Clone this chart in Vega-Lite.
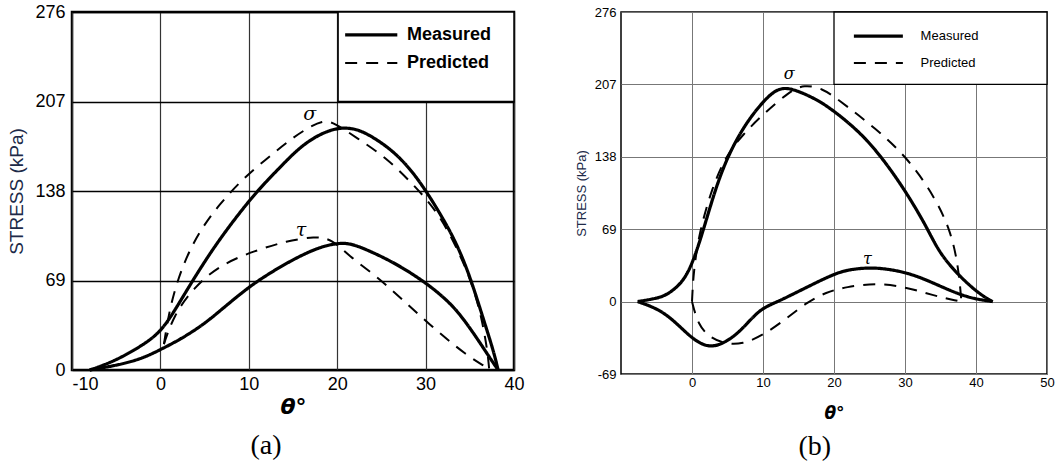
{
  "$schema": "https://vega.github.io/schema/vega-lite/v6.json",
  "padding": {"left": 6, "top": 1, "right": 0, "bottom": 0},
  "background": "white",
  "spacing": 48,
  "config": {"font": "Liberation Sans", "view": {"stroke": "black"}},
  "datasets": {
    "a": [
      {"series": "Measured", "curve": "σ", "x": -8, "y": 0},
      {"series": "Measured", "curve": "σ", "x": -6.5, "y": 3.5},
      {"series": "Measured", "curve": "σ", "x": -4.6, "y": 9},
      {"series": "Measured", "curve": "σ", "x": -1.9, "y": 19.5},
      {"series": "Measured", "curve": "σ", "x": 0.1, "y": 29.8},
      {"series": "Measured", "curve": "σ", "x": 1.8, "y": 47.8},
      {"series": "Measured", "curve": "σ", "x": 3.7, "y": 69.6},
      {"series": "Measured", "curve": "σ", "x": 6, "y": 94},
      {"series": "Measured", "curve": "σ", "x": 8.2, "y": 114.6},
      {"series": "Measured", "curve": "σ", "x": 10.9, "y": 137.8},
      {"series": "Measured", "curve": "σ", "x": 13.5, "y": 156},
      {"series": "Measured", "curve": "σ", "x": 15.5, "y": 170},
      {"series": "Measured", "curve": "σ", "x": 17.3, "y": 179},
      {"series": "Measured", "curve": "σ", "x": 19, "y": 184.5},
      {"series": "Measured", "curve": "σ", "x": 20.3, "y": 186.6},
      {"series": "Measured", "curve": "σ", "x": 21.5, "y": 186.5},
      {"series": "Measured", "curve": "σ", "x": 23, "y": 184},
      {"series": "Measured", "curve": "σ", "x": 26, "y": 171},
      {"series": "Measured", "curve": "σ", "x": 28.2, "y": 155.7},
      {"series": "Measured", "curve": "σ", "x": 30.1, "y": 137.8},
      {"series": "Measured", "curve": "σ", "x": 32.4, "y": 112},
      {"series": "Measured", "curve": "σ", "x": 33.9, "y": 91.5},
      {"series": "Measured", "curve": "σ", "x": 35.2, "y": 68.4},
      {"series": "Measured", "curve": "σ", "x": 36.5, "y": 40},
      {"series": "Measured", "curve": "σ", "x": 37.7, "y": 14.4},
      {"series": "Measured", "curve": "σ", "x": 38.2, "y": 0},
      {"series": "Measured", "curve": "τ", "x": -8, "y": 0},
      {"series": "Measured", "curve": "τ", "x": -4.6, "y": 4},
      {"series": "Measured", "curve": "τ", "x": -2, "y": 9},
      {"series": "Measured", "curve": "τ", "x": 0, "y": 15.7},
      {"series": "Measured", "curve": "τ", "x": 2.2, "y": 23.4},
      {"series": "Measured", "curve": "τ", "x": 4.9, "y": 35},
      {"series": "Measured", "curve": "τ", "x": 7.5, "y": 50},
      {"series": "Measured", "curve": "τ", "x": 10.1, "y": 64.5},
      {"series": "Measured", "curve": "τ", "x": 12.4, "y": 74.8},
      {"series": "Measured", "curve": "τ", "x": 14.7, "y": 84},
      {"series": "Measured", "curve": "τ", "x": 16.9, "y": 91.5},
      {"series": "Measured", "curve": "τ", "x": 18.7, "y": 96},
      {"series": "Measured", "curve": "τ", "x": 20.3, "y": 97.9},
      {"series": "Measured", "curve": "τ", "x": 21.5, "y": 97.5},
      {"series": "Measured", "curve": "τ", "x": 23.3, "y": 93},
      {"series": "Measured", "curve": "τ", "x": 26.7, "y": 82},
      {"series": "Measured", "curve": "τ", "x": 30.1, "y": 67},
      {"series": "Measured", "curve": "τ", "x": 32.4, "y": 54},
      {"series": "Measured", "curve": "τ", "x": 33.9, "y": 43},
      {"series": "Measured", "curve": "τ", "x": 35.8, "y": 24.7},
      {"series": "Measured", "curve": "τ", "x": 37.3, "y": 9},
      {"series": "Measured", "curve": "τ", "x": 38.2, "y": 0},
      {"series": "Predicted", "curve": "σ", "x": 0.4, "y": 20},
      {"series": "Predicted", "curve": "σ", "x": 1.1, "y": 50},
      {"series": "Predicted", "curve": "σ", "x": 2.5, "y": 81},
      {"series": "Predicted", "curve": "σ", "x": 4.4, "y": 107},
      {"series": "Predicted", "curve": "σ", "x": 6.7, "y": 128},
      {"series": "Predicted", "curve": "σ", "x": 9.4, "y": 148},
      {"series": "Predicted", "curve": "σ", "x": 12.4, "y": 165},
      {"series": "Predicted", "curve": "σ", "x": 14.7, "y": 177.6},
      {"series": "Predicted", "curve": "σ", "x": 16.5, "y": 186},
      {"series": "Predicted", "curve": "σ", "x": 18.4, "y": 192.5},
      {"series": "Predicted", "curve": "σ", "x": 19.6, "y": 191},
      {"series": "Predicted", "curve": "σ", "x": 22.2, "y": 179},
      {"series": "Predicted", "curve": "σ", "x": 25.6, "y": 163.5},
      {"series": "Predicted", "curve": "σ", "x": 28.6, "y": 143},
      {"series": "Predicted", "curve": "σ", "x": 31.3, "y": 122.6},
      {"series": "Predicted", "curve": "σ", "x": 33.5, "y": 95},
      {"series": "Predicted", "curve": "σ", "x": 35.2, "y": 68},
      {"series": "Predicted", "curve": "σ", "x": 36.3, "y": 42},
      {"series": "Predicted", "curve": "σ", "x": 37, "y": 15},
      {"series": "Predicted", "curve": "σ", "x": 37.2, "y": 0},
      {"series": "Predicted", "curve": "τ", "x": 0.4, "y": 20},
      {"series": "Predicted", "curve": "τ", "x": 1.5, "y": 42},
      {"series": "Predicted", "curve": "τ", "x": 3.7, "y": 63},
      {"series": "Predicted", "curve": "τ", "x": 6.7, "y": 81},
      {"series": "Predicted", "curve": "τ", "x": 10.7, "y": 92},
      {"series": "Predicted", "curve": "τ", "x": 14.3, "y": 99.5},
      {"series": "Predicted", "curve": "τ", "x": 17.5, "y": 103},
      {"series": "Predicted", "curve": "τ", "x": 19.4, "y": 101},
      {"series": "Predicted", "curve": "τ", "x": 21.3, "y": 88},
      {"series": "Predicted", "curve": "τ", "x": 24.5, "y": 72},
      {"series": "Predicted", "curve": "τ", "x": 27.6, "y": 53},
      {"series": "Predicted", "curve": "τ", "x": 31.1, "y": 31},
      {"series": "Predicted", "curve": "τ", "x": 34.7, "y": 11},
      {"series": "Predicted", "curve": "τ", "x": 36.8, "y": 2.5},
      {"series": "Predicted", "curve": "τ", "x": 37.3, "y": 0}
    ],
    "b": [
      {"series": "Measured", "curve": "σ", "x": -7.65, "y": 0},
      {"series": "Measured", "curve": "σ", "x": -5.5, "y": 2.5},
      {"series": "Measured", "curve": "σ", "x": -3.66, "y": 5.4},
      {"series": "Measured", "curve": "σ", "x": -1.3, "y": 18},
      {"series": "Measured", "curve": "σ", "x": 0.1, "y": 37},
      {"series": "Measured", "curve": "σ", "x": 1.5, "y": 65.7},
      {"series": "Measured", "curve": "σ", "x": 3.4, "y": 110},
      {"series": "Measured", "curve": "σ", "x": 5.25, "y": 141.8},
      {"series": "Measured", "curve": "σ", "x": 7.6, "y": 170.4},
      {"series": "Measured", "curve": "σ", "x": 10.4, "y": 194},
      {"series": "Measured", "curve": "σ", "x": 12.3, "y": 204},
      {"series": "Measured", "curve": "σ", "x": 14.2, "y": 203},
      {"series": "Measured", "curve": "σ", "x": 17.5, "y": 193},
      {"series": "Measured", "curve": "σ", "x": 19.5, "y": 184},
      {"series": "Measured", "curve": "σ", "x": 21.7, "y": 172.5},
      {"series": "Measured", "curve": "σ", "x": 24.5, "y": 155.5},
      {"series": "Measured", "curve": "σ", "x": 27.3, "y": 132.3},
      {"series": "Measured", "curve": "σ", "x": 30.1, "y": 105},
      {"series": "Measured", "curve": "σ", "x": 33, "y": 72},
      {"series": "Measured", "curve": "σ", "x": 34.8, "y": 46.6},
      {"series": "Measured", "curve": "σ", "x": 37.6, "y": 24.5},
      {"series": "Measured", "curve": "σ", "x": 40.5, "y": 7},
      {"series": "Measured", "curve": "σ", "x": 42.35, "y": 0},
      {"series": "Measured", "curve": "τ", "x": -7.65, "y": 0},
      {"series": "Measured", "curve": "τ", "x": -4.6, "y": -7.3},
      {"series": "Measured", "curve": "τ", "x": -2.25, "y": -20},
      {"series": "Measured", "curve": "τ", "x": 0.1, "y": -35.9},
      {"series": "Measured", "curve": "τ", "x": 2.4, "y": -44.5},
      {"series": "Measured", "curve": "τ", "x": 4.8, "y": -39},
      {"series": "Measured", "curve": "τ", "x": 7.1, "y": -26.4},
      {"series": "Measured", "curve": "τ", "x": 9.5, "y": -7.3},
      {"series": "Measured", "curve": "τ", "x": 11.8, "y": -1},
      {"series": "Measured", "curve": "τ", "x": 15.6, "y": 11.7},
      {"series": "Measured", "curve": "τ", "x": 20.3, "y": 27.6},
      {"series": "Measured", "curve": "τ", "x": 22.6, "y": 31},
      {"series": "Measured", "curve": "τ", "x": 25.9, "y": 33},
      {"series": "Measured", "curve": "τ", "x": 30.6, "y": 27.6},
      {"series": "Measured", "curve": "τ", "x": 34.4, "y": 16.5},
      {"series": "Measured", "curve": "τ", "x": 38.6, "y": 3.8},
      {"series": "Measured", "curve": "τ", "x": 42.35, "y": 0},
      {"series": "Predicted", "curve": "σ", "x": 0, "y": 0},
      {"series": "Predicted", "curve": "σ", "x": 0.2, "y": 27.6},
      {"series": "Predicted", "curve": "σ", "x": 1, "y": 65.7},
      {"series": "Predicted", "curve": "σ", "x": 2.9, "y": 110},
      {"series": "Predicted", "curve": "σ", "x": 4.8, "y": 138.7},
      {"series": "Predicted", "curve": "σ", "x": 7.1, "y": 159},
      {"series": "Predicted", "curve": "σ", "x": 10.4, "y": 181},
      {"series": "Predicted", "curve": "σ", "x": 13.7, "y": 200},
      {"series": "Predicted", "curve": "σ", "x": 15.8, "y": 207},
      {"series": "Predicted", "curve": "σ", "x": 18.4, "y": 203},
      {"series": "Predicted", "curve": "σ", "x": 20.3, "y": 194},
      {"series": "Predicted", "curve": "σ", "x": 25.9, "y": 165},
      {"series": "Predicted", "curve": "σ", "x": 30.6, "y": 135.4},
      {"series": "Predicted", "curve": "σ", "x": 34.4, "y": 97.4},
      {"series": "Predicted", "curve": "σ", "x": 36.5, "y": 65.7},
      {"series": "Predicted", "curve": "σ", "x": 37.5, "y": 34},
      {"series": "Predicted", "curve": "σ", "x": 37.95, "y": 0},
      {"series": "Predicted", "curve": "τ", "x": 0, "y": 0},
      {"series": "Predicted", "curve": "τ", "x": 0.85, "y": -22},
      {"series": "Predicted", "curve": "τ", "x": 2.5, "y": -34.5},
      {"series": "Predicted", "curve": "τ", "x": 4.8, "y": -40.5},
      {"series": "Predicted", "curve": "τ", "x": 7.1, "y": -40.5},
      {"series": "Predicted", "curve": "τ", "x": 9.9, "y": -32.6},
      {"series": "Predicted", "curve": "τ", "x": 13.2, "y": -16.8},
      {"series": "Predicted", "curve": "τ", "x": 16.1, "y": -1},
      {"series": "Predicted", "curve": "τ", "x": 18.9, "y": 9},
      {"series": "Predicted", "curve": "τ", "x": 21.7, "y": 14},
      {"series": "Predicted", "curve": "τ", "x": 25.9, "y": 17.7},
      {"series": "Predicted", "curve": "τ", "x": 30.1, "y": 14},
      {"series": "Predicted", "curve": "τ", "x": 33.9, "y": 6},
      {"series": "Predicted", "curve": "τ", "x": 37.5, "y": 0.5},
      {"series": "Predicted", "curve": "τ", "x": 37.95, "y": 0}
    ]
  },
  "hconcat": [
    {
      "width": 442,
      "height": 358,
      "view": {"stroke": "black", "strokeWidth": 2.5},
      "title": {"text": "(a)", "orient": "bottom", "anchor": "middle", "frame": "bounds", "font": "Liberation Serif", "fontSize": 28, "fontWeight": "normal", "color": "black", "offset": 15},
      "layer": [
        {
          "data": {"name": "a"},
          "mark": {"type": "line", "color": "black", "interpolate": "basis"},
          "encoding": {
            "x": {"field": "x", "type": "quantitative", "scale": {"domain": [-10, 40], "nice": false, "zero": false},
              "axis": {"values": [-10, 0, 10, 20, 30, 40], "labelExpr": "'' + datum.value", "labelAlign": {"condition": {"test": "datum.value == -10", "value": "left"}, "value": "center"}, "title": "θ°", "titleFont": "DejaVu Sans", "titleFontSize": 22, "titleFontStyle": "italic", "titleFontWeight": "bold", "titleColor": "black", "titlePadding": 3, "labelFontSize": 18, "labelColor": "black", "labelPadding": 5, "labelFlush": false, "labelOverlap": false, "ticks": false, "domain": false, "grid": true, "gridColor": "#333", "gridWidth": 1.2}},
            "y": {"field": "y", "type": "quantitative", "scale": {"domain": [0, 276], "nice": false, "zero": false},
              "axis": {"values": [0, 69, 138, 207, 276], "title": "STRESS (kPa)", "titleFontSize": 19, "titleFontWeight": "normal", "titleColor": "#202a48", "titlePadding": 8, "labelFontSize": 18, "labelColor": "black", "labelPadding": 7, "labelFlush": false, "labelOverlap": false, "ticks": false, "domain": false, "grid": true, "gridColor": "black", "gridWidth": 1.5}},
            "detail": {"field": "curve"},
            "strokeDash": {"field": "series", "scale": {"domain": ["Measured", "Predicted"], "range": [[1, 0], [12, 9]]}, "legend": null},
            "strokeWidth": {"field": "series", "scale": {"domain": ["Measured", "Predicted"], "range": [3.2, 2]}, "legend": null}
          }
        },
        {
          "data": {"values": [{"box": "legend"}]},
          "mark": {"type": "rect", "fill": "white", "stroke": "black", "strokeWidth": 1.5},
          "encoding": {
            "x": {"datum": 20.1, "type": "quantitative"},
            "x2": {"datum": 40},
            "y": {"datum": 207, "type": "quantitative"},
            "y2": {"datum": 276}
          }
        },
        {
          "data": {"values": [{"series": "Measured"}]},
          "mark": {"type": "rule", "color": "black"},
          "encoding": {
            "x": {"datum": 20.9, "type": "quantitative"}, "x2": {"datum": 26.8},
            "y": {"datum": 258.3, "type": "quantitative"},
            "strokeDash": {"field": "series", "legend": null},
            "strokeWidth": {"field": "series", "legend": null}
          }
        },
        {
          "data": {"values": [{"series": "Predicted"}]},
          "mark": {"type": "rule", "color": "black"},
          "encoding": {
            "x": {"datum": 20.9, "type": "quantitative"}, "x2": {"datum": 26.8},
            "y": {"datum": 236.7, "type": "quantitative"},
            "strokeDash": {"field": "series", "legend": null},
            "strokeWidth": {"field": "series", "legend": null}
          }
        },
        {
          "data": {"values": [{"series": "Measured"}]},
          "mark": {"type": "text", "align": "left", "baseline": "middle", "fontSize": 18, "fontWeight": "bold", "color": "black"},
          "encoding": {
            "x": {"datum": 27.9, "type": "quantitative"},
            "y": {"datum": 258.3, "type": "quantitative"},
            "text": {"field": "series"}
          }
        },
        {
          "data": {"values": [{"series": "Predicted"}]},
          "mark": {"type": "text", "align": "left", "baseline": "middle", "fontSize": 18, "fontWeight": "bold", "color": "black"},
          "encoding": {
            "x": {"datum": 27.9, "type": "quantitative"},
            "y": {"datum": 236.7, "type": "quantitative"},
            "text": {"field": "series"}
          }
        },
        {
          "data": {"values": [{"label": "σ"}]},
          "mark": {"type": "text", "align": "center", "baseline": "middle", "font": "DejaVu Serif", "fontStyle": "italic", "fontSize": 19, "color": "black"},
          "encoding": {
            "x": {"datum": 16.9, "type": "quantitative"},
            "y": {"datum": 197, "type": "quantitative"},
            "text": {"field": "label"}
          }
        },
        {
          "data": {"values": [{"label": "τ"}]},
          "mark": {"type": "text", "align": "center", "baseline": "middle", "font": "DejaVu Serif", "fontStyle": "italic", "fontSize": 19, "color": "black"},
          "encoding": {
            "x": {"datum": 15.9, "type": "quantitative"},
            "y": {"datum": 108, "type": "quantitative"},
            "text": {"field": "label"}
          }
        }
      ]
    },
    {
      "width": 426,
      "height": 362,
      "view": {"stroke": "black", "strokeWidth": 1.5},
      "title": {"text": "(b)", "orient": "bottom", "anchor": "middle", "frame": "bounds", "font": "Liberation Serif", "fontSize": 28, "fontWeight": "normal", "color": "black", "offset": 12},
      "layer": [
        {
          "data": {"name": "b"},
          "mark": {"type": "line", "color": "black", "interpolate": "basis"},
          "encoding": {
            "x": {"field": "x", "type": "quantitative", "scale": {"domain": [-10, 50], "nice": false, "zero": false},
              "axis": {"values": [0, 10, 20, 30, 40, 50], "title": "θ°", "titleFont": "DejaVu Sans", "titleFontSize": 17, "titleFontStyle": "italic", "titleFontWeight": "bold", "titleColor": "black", "titlePadding": 16, "labelFontSize": 13, "labelColor": "black", "labelPadding": 2, "labelFlush": false, "labelOverlap": false, "ticks": false, "domain": false, "grid": true, "gridColor": "#777", "gridWidth": 1}},
            "y": {"field": "y", "type": "quantitative", "scale": {"domain": [-69, 276], "nice": false, "zero": false},
              "axis": {"values": [-69, 0, 69, 138, 207, 276], "labelExpr": "'' + datum.value", "title": "STRESS (kPa)", "titleFontSize": 13, "titleFontWeight": "normal", "titleColor": "#202a48", "titlePadding": 6, "labelFontSize": 13, "labelColor": "black", "labelPadding": 5, "labelFlush": false, "labelOverlap": false, "ticks": false, "domain": false, "grid": true, "gridColor": "#777", "gridWidth": 1}},
            "detail": {"field": "curve"},
            "strokeDash": {"field": "series", "scale": {"domain": ["Measured", "Predicted"], "range": [[1, 0], [18, 5]]}, "legend": null},
            "strokeWidth": {"field": "series", "scale": {"domain": ["Measured", "Predicted"], "range": [1.7, 1.8]}, "legend": null}
          }
        },
        {
          "data": {"values": [{"box": "legend"}]},
          "mark": {"type": "rect", "fill": "white", "stroke": "black", "strokeWidth": 1.3},
          "encoding": {
            "x": {"datum": 20, "type": "quantitative"},
            "x2": {"datum": 50},
            "y": {"datum": 207, "type": "quantitative"},
            "y2": {"datum": 276}
          }
        },
        {
          "data": {"values": [{"series": "Measured"}]},
          "mark": {"type": "rule", "color": "black"},
          "encoding": {
            "x": {"datum": 22.8, "type": "quantitative"}, "x2": {"datum": 29.7},
            "y": {"datum": 253, "type": "quantitative"},
            "strokeDash": {"field": "series", "legend": null},
            "strokeWidth": {"field": "series", "legend": null}
          }
        },
        {
          "data": {"values": [{"series": "Predicted"}]},
          "mark": {"type": "rule", "color": "black"},
          "encoding": {
            "x": {"datum": 22.8, "type": "quantitative"}, "x2": {"datum": 29.7},
            "y": {"datum": 227.5, "type": "quantitative"},
            "strokeDash": {"field": "series", "legend": null},
            "strokeWidth": {"field": "series", "legend": null}
          }
        },
        {
          "data": {"values": [{"series": "Measured"}]},
          "mark": {"type": "text", "align": "left", "baseline": "middle", "fontSize": 13, "color": "black"},
          "encoding": {
            "x": {"datum": 32.2, "type": "quantitative"},
            "y": {"datum": 253, "type": "quantitative"},
            "text": {"field": "series"}
          }
        },
        {
          "data": {"values": [{"series": "Predicted"}]},
          "mark": {"type": "text", "align": "left", "baseline": "middle", "fontSize": 13, "color": "black"},
          "encoding": {
            "x": {"datum": 32.2, "type": "quantitative"},
            "y": {"datum": 227.5, "type": "quantitative"},
            "text": {"field": "series"}
          }
        },
        {
          "data": {"values": [{"label": "σ"}]},
          "mark": {"type": "text", "align": "center", "baseline": "middle", "font": "DejaVu Serif", "fontStyle": "italic", "fontSize": 16, "color": "black"},
          "encoding": {
            "x": {"datum": 13.7, "type": "quantitative"},
            "y": {"datum": 217, "type": "quantitative"},
            "text": {"field": "label"}
          }
        },
        {
          "data": {"values": [{"label": "τ"}]},
          "mark": {"type": "text", "align": "center", "baseline": "middle", "font": "DejaVu Serif", "fontStyle": "italic", "fontSize": 16, "color": "black"},
          "encoding": {
            "x": {"datum": 24.7, "type": "quantitative"},
            "y": {"datum": 41, "type": "quantitative"},
            "text": {"field": "label"}
          }
        }
      ]
    }
  ]
}
